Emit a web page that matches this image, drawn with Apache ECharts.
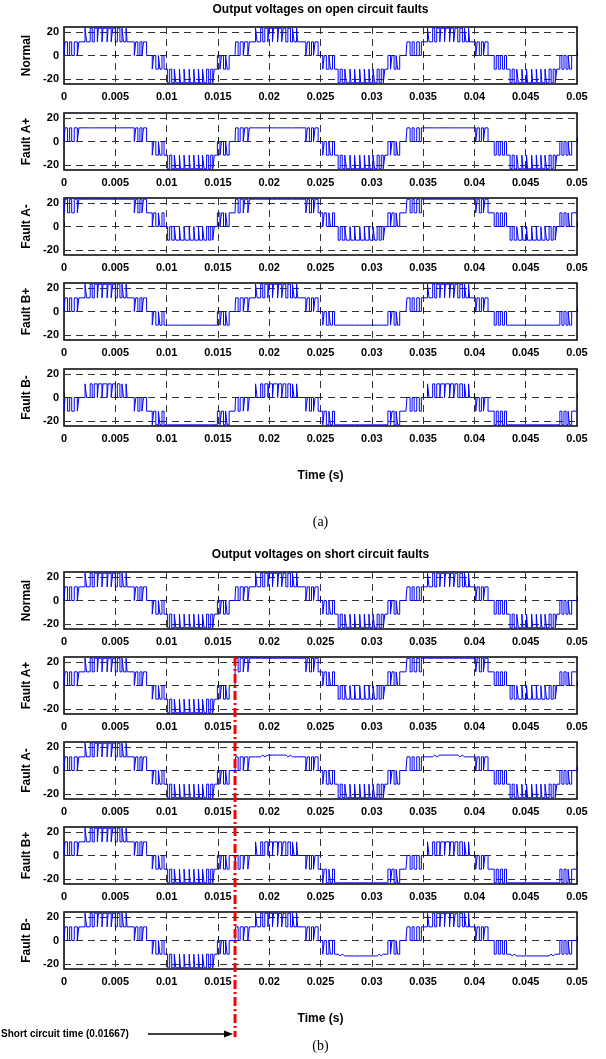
<!DOCTYPE html>
<html>
<head>
<meta charset="utf-8">
<script src="https://cdn.jsdelivr.net/npm/echarts@6/dist/echarts.min.js"></script>
<style>
html, body { margin: 0; padding: 0; background: #fff; }
#chart { width: 606px; height: 1059px; }
</style>
</head>
<body>
<div id="chart"></div>
<script>
// tick values
const yTicks = [-20, 0, 20];
const xMax = 0.05;
const rowNames = ['Normal', 'Fault A+', 'Fault A-', 'Fault B+', 'Fault B-'];

// switching pattern of the healthy inverter, read per 60 Hz cycle (ms from cycle start)
const cycleStartMs = [0, 16.67, 33.33];
const cycleStates = [
  0, 1, 0, 1, 0, 1, 0, 1,
  2, 1, 2, 1, 2, 1, 2, 1, 2, 1, 2, 1, 2, 1, 2, 1, 2, 1, 2, 1,
  0, 1, 0, 1, 0, 1, 0,
  -1, 0, -1, 0, -1, 0, -1,
  -2, -1, -2, -1, -2, -1, -2, -1, -2, -1, -2, -1, -2, -1, -2, -1, -2, -1, -2, -1, -2, -1,
  0, -1, 0, -1, 0, -1, 0
];
const cycle1Ms = [
  0, 0.1, 0.35, 0.55, 0.75, 1.0, 1.3, 1.45,
  2.05, 2.2, 2.55, 2.75, 2.95, 3.25, 3.35, 3.7, 3.8, 4.2, 4.3, 4.6, 4.75, 5.0, 5.2, 5.45, 5.65, 5.8, 6.05, 6.15,
  6.85, 7.0, 7.2, 7.4, 7.6, 7.75, 8.05,
  8.6, 8.75, 8.95, 9.2, 9.35, 9.55, 9.75,
  10.1, 10.3, 10.5, 10.75, 10.9, 11.25, 11.35, 11.7, 11.8, 12.2, 12.3, 12.65, 12.75, 13.1, 13.2, 13.5, 13.65, 13.9, 14.1, 14.3, 14.5, 14.65,
  14.95, 15.2, 15.35, 15.55, 15.75, 15.9, 16.1
];
const cycle2Ms = [
  0, 0.05, 0.3, 0.5, 0.8, 0.95, 1.25, 1.4,
  2.0, 2.15, 2.5, 2.7, 2.9, 3.2, 3.3, 3.65, 3.75, 4.15, 4.25, 4.55, 4.7, 4.95, 5.15, 5.4, 5.6, 5.75, 6.0, 6.1,
  6.9, 7.05, 7.25, 7.45, 7.65, 7.8, 8.1,
  8.55, 8.7, 8.9, 9.15, 9.3, 9.5, 9.7,
  10.05, 10.25, 10.45, 10.7, 10.85, 11.2, 11.3, 11.65, 11.75, 12.15, 12.25, 12.6, 12.7, 13.05, 13.15, 13.45, 13.6, 13.85, 14.05, 14.25, 14.45, 14.6,
  14.9, 15.15, 15.3, 15.5, 15.7, 15.85, 16.05
];
const cycle3Ms = [
  0, 0.1, 0.4, 0.6, 0.8, 1.05, 1.3, 1.5,
  2.1, 2.25, 2.6, 2.8, 3.0, 3.3, 3.4, 3.75, 3.85, 4.25, 4.35, 4.65, 4.8, 5.05, 5.25, 5.5, 5.7, 5.85, 6.1, 6.2,
  6.8, 6.95, 7.15, 7.35, 7.55, 7.7, 8.0,
  8.6, 8.8, 9.0, 9.2, 9.4, 9.6, 9.8,
  10.15, 10.35, 10.55, 10.8, 10.95, 11.3, 11.4, 11.75, 11.85, 12.25, 12.35, 12.7, 12.8, 13.15, 13.25, 13.55, 13.7, 13.95, 14.15, 14.35, 14.55, 14.7,
  15.0, 15.2, 15.4, 15.6, 15.8, 15.95, 16.15
];
const cyclesMs = [cycle1Ms, cycle2Ms, cycle3Ms];

// output voltage for switching state -2..2
const levelsNormal      = [-23, -11.5, 0, 11.5, 23];
const levelsOpenAplus   = [-23, -11.5, 0, 11.5, 11.5];
const levelsOpenAminus  = [-11.5, 0, 11.5, 23, 23];
const levelsOpenBplus   = [-11.5, -11.5, 0, 11.5, 23];
const levelsOpenBminus  = [-23, -23, -11.5, 0, 11.5];
const levelsShortAplus  = [-11.5, 0, 11.5, 23, 23];
const levelsShortAminus = [-23, -11.5, 0, 11.5, 13];
const levelsShortBplus  = [-23, -23, -11.5, 0, 11.5];
const levelsShortBminus = [-13, -11.5, 0, 11.5, 23];
const shortTimeMs = 16.67;

const openRows = [levelsNormal, levelsOpenAplus, levelsOpenAminus, levelsOpenBplus, levelsOpenBminus];
const shortRows = [levelsNormal, levelsShortAplus, levelsShortAminus, levelsShortBplus, levelsShortBminus];

function buildWave(before, after, switchMs) {
  const pts = [];
  cyclesMs.forEach((times, k) => {
    times.forEach((t, i) => {
      const ms = cycleStartMs[k] + t;
      const lv = ms >= switchMs ? after : before;
      pts.push([ms / 1000, lv[cycleStates[i] + 2]]);
    });
  });
  pts.push([xMax, pts[pts.length - 1][1]]);
  return pts;
}

const font = 'Liberation Sans';
const tops = [27, 113, 198, 283, 369, 572, 657, 742, 827, 912];
const grids = [], xAxes = [], yAxes = [], series = [];
for (let i = 0; i < 10; i++) {
  const row = i % 5;
  const data = i < 5
    ? buildWave(openRows[row], openRows[row], Infinity)
    : buildWave(levelsNormal, shortRows[row], row === 0 ? Infinity : shortTimeMs);
  grids.push({
    left: 64, right: 29, top: tops[i], height: 57,
    show: true, borderColor: '#000', borderWidth: 1.5
  });
  xAxes.push({
    type: 'value', gridIndex: i, min: 0, max: xMax, interval: 0.005,
    axisLine: { show: false },
    axisTick: { show: true, inside: true, length: 4, lineStyle: { color: '#000' } },
    axisLabel: {
      color: '#000', fontFamily: font, fontWeight: 'bold', fontSize: 11, margin: 7,
      formatter: v => String(+v.toFixed(3))
    },
    splitLine: { show: true, lineStyle: { color: '#333', width: 1, type: [7, 5] } },
    name: row === 4 ? 'Time (s)' : '',
    nameLocation: 'middle', nameGap: 44,
    nameTextStyle: { color: '#000', fontFamily: font, fontWeight: 'bold', fontSize: 12 }
  });
  yAxes.push({
    type: 'value', gridIndex: i, min: -24, max: 24,
    axisLine: { show: false },
    axisTick: { show: true, inside: true, length: 4, customValues: yTicks, lineStyle: { color: '#000' } },
    axisLabel: { customValues: yTicks, color: '#000', fontFamily: font, fontWeight: 'bold', fontSize: 11, margin: 5 },
    splitLine: { show: false },
    name: rowNames[row], nameLocation: 'middle', nameGap: 30,
    nameTextStyle: { color: '#000', fontFamily: font, fontWeight: 'bold', fontSize: 12 }
  });
  series.push({
    type: 'line', xAxisIndex: i, yAxisIndex: i, data: data, step: 'end',
    symbol: 'none', lineStyle: { color: '#0000ff', width: 1 },
    markLine: {
      silent: true, symbol: ['none', 'none'], z: 1, label: { show: false },
      lineStyle: { color: '#333', width: 1, type: [7, 5] },
      data: yTicks.map(v => ({ yAxis: v }))
    }
  });
}

const chart = echarts.init(document.getElementById('chart'));
chart.setOption({ animation: false, grid: grids, xAxis: xAxes, yAxis: yAxes, series: series });

// annotations placed through the axes
const midX = 64 + (606 - 64 - 29) / 2;
const top6 = chart.convertToPixel({ gridIndex: 6 }, [shortTimeMs / 1000, 24]);
const bot9 = chart.convertToPixel({ gridIndex: 9 }, [shortTimeMs / 1000, -24]);
const xs = top6[0];
const yArrow = bot9[1] + 65;
function label(text, x, y, f, align) {
  return {
    type: 'text', x: x, y: y, z: 50,
    style: { text: text, font: f, fill: '#000', textAlign: align, textVerticalAlign: 'middle', align: align, verticalAlign: 'middle' }
  };
}
chart.setOption({
  graphic: [
    label('Output voltages on open circuit faults', midX, 10, 'bold 12px "Liberation Sans"', 'center'),
    label('(a)', midX, 522, '14px "Liberation Serif"', 'center'),
    label('Output voltages on short circuit faults', midX, 555, 'bold 12px "Liberation Sans"', 'center'),
    label('(b)', midX, 1046, '14px "Liberation Serif"', 'center'),
    label('Short circuit time (0.01667)', 1, yArrow, 'bold 10px "Liberation Sans"', 'left'),
    {
      type: 'line', z: 60,
      shape: { x1: xs, y1: top6[1], x2: xs, y2: yArrow + 3 },
      style: { stroke: '#ff0000', lineWidth: 3, lineDash: [9, 3, 2, 3] }
    },
    {
      type: 'line', z: 55,
      shape: { x1: 148, y1: yArrow, x2: xs - 8, y2: yArrow },
      style: { stroke: '#000', lineWidth: 1.3 }
    },
    {
      type: 'polygon', z: 55,
      shape: { points: [[xs - 2, yArrow], [xs - 11, yArrow - 3.5], [xs - 11, yArrow + 3.5]] },
      style: { fill: '#000' }
    }
  ]
});
</script>
</body>
</html>
